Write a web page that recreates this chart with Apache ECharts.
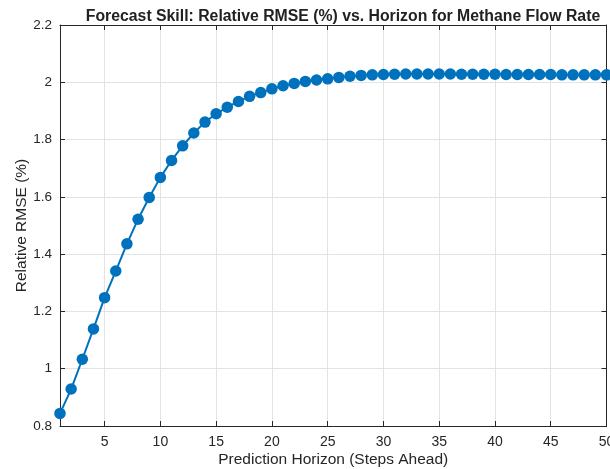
<!DOCTYPE html>
<html>
<head>
<meta charset="utf-8">
<script src="https://cdn.jsdelivr.net/npm/echarts@6/dist/echarts.min.js"></script>
<style>
  html, body { margin: 0; padding: 0; background: #fff; }
  #chart { width: 610px; height: 469px; }
</style>
</head>
<body>
<div id="chart"></div>
<script>
// Forecast horizon (steps ahead)
const horizon = Array.from({ length: 50 }, (_, i) => i + 1);

// Relative RMSE (%) at each horizon step
const relRmse = [
  0.844, 0.929, 1.033, 1.139, 1.248, 1.341, 1.436, 1.522, 1.598, 1.668,
  1.727, 1.778, 1.823, 1.861, 1.890, 1.913, 1.933, 1.951, 1.964, 1.977,
  1.988, 1.996, 2.003, 2.008, 2.012, 2.017, 2.021, 2.024, 2.026, 2.027,
  2.028, 2.029, 2.029, 2.029, 2.029, 2.029, 2.028, 2.028, 2.028, 2.028,
  2.027, 2.027, 2.027, 2.027, 2.027, 2.026, 2.026, 2.026, 2.026, 2.026
];

// Tick positions
const xTicks = [5, 10, 15, 20, 25, 30, 35, 40, 45, 50];

const axisColor = '#262626';
const gridColor = '#e3e3e3';
const font = 'Liberation Sans, Arial, Helvetica, sans-serif';

const chart = echarts.init(document.getElementById('chart'), null, { renderer: 'canvas' });

const baseX = {
  type: 'value', min: 1, max: 50,
  axisLine: { show: true, onZero: false, lineStyle: { color: axisColor, width: 1 } },
  axisTick: { show: true, inside: true, length: 5, customValues: xTicks, lineStyle: { color: axisColor } }
};
const baseY = {
  type: 'value', min: 0.8, max: 2.2, interval: 0.2,
  axisLine: { show: true, onZero: false, lineStyle: { color: axisColor, width: 1 } },
  axisTick: { show: true, inside: true, length: 5, lineStyle: { color: axisColor } }
};

chart.setOption({
  animation: false,
  backgroundColor: '#ffffff',
  title: {
    text: 'Forecast Skill: Relative RMSE (%) vs. Horizon for Methane Flow Rate',
    left: 338, top: 4, textAlign: 'center',
    textStyle: { fontFamily: font, fontSize: 15.8, fontWeight: 'bold', color: '#212121' }
  },
  grid: { left: 60, right: 3.5, top: 25, bottom: 43, containLabel: false, outerBoundsMode: 'none' },
  xAxis: [
    Object.assign({}, baseX, {
      position: 'bottom',
      name: 'Prediction Horizon (Steps Ahead)',
      nameLocation: 'middle', nameGap: 26, nameMoveOverlap: false,
      nameTextStyle: { fontFamily: font, fontSize: 15.5, color: axisColor },
      axisLabel: { show: true, customValues: xTicks, margin: 9, fontFamily: font, fontSize: 14, color: axisColor },
      splitLine: { show: true, lineStyle: { color: gridColor, width: 1 } }
    }),
    Object.assign({}, baseX, {
      position: 'top',
      axisLabel: { show: false },
      splitLine: { show: false }
    })
  ],
  yAxis: [
    Object.assign({}, baseY, {
      position: 'left',
      name: 'Relative RMSE (%)',
      nameLocation: 'middle', nameGap: 30, nameMoveOverlap: false,
      nameTextStyle: { fontFamily: font, fontSize: 15.5, color: axisColor },
      axisLabel: { show: true, margin: 8, fontFamily: font, fontSize: 13.5, color: axisColor },
      splitLine: { show: true, lineStyle: { color: gridColor, width: 1 } }
    }),
    Object.assign({}, baseY, {
      position: 'right',
      axisLabel: { show: false },
      splitLine: { show: false }
    })
  ],
  series: [{
    type: 'line',
    data: horizon.map((h, i) => [h, relRmse[i]]),
    xAxisIndex: 0, yAxisIndex: 0,
    symbol: 'circle', symbolSize: 11.5,
    showAllSymbol: true,
    lineStyle: { color: '#0072BD', width: 2 },
    itemStyle: { color: '#0072BD' },
    clip: false
  }]
});
</script>
</body>
</html>
